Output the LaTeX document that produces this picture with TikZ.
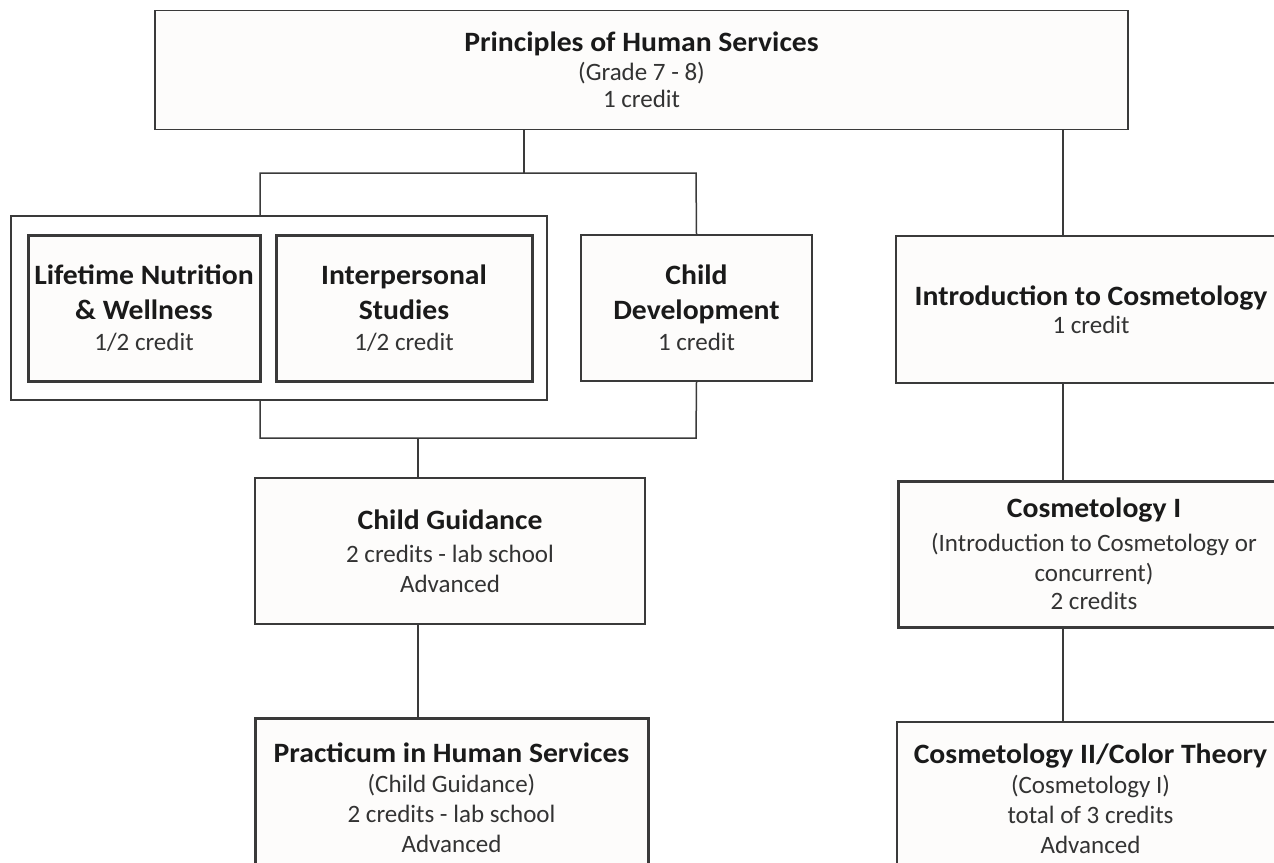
\documentclass[tikz,border=0pt]{standalone}
\usepackage{fontspec}
\setmainfont{Carlito}
\newfontfamily\boldfam{Carlito}[FakeStretch=1.06]
\definecolor{linegray}{HTML}{3A3A3A}
\definecolor{boxfill}{HTML}{FDFCFB}
\definecolor{txtgray}{HTML}{333333}
\definecolor{ttlgray}{HTML}{1A1A1A}
\newcommand{\regf}{\fontsize{12.5}{15}\selectfont}
\newcommand{\ttl}{\color{ttlgray}\boldfam\bfseries\fontsize{14}{16.5}\selectfont}
\begin{document}
\begin{tikzpicture}[x=0.5pt,y=-0.5pt,
  box/.style={draw=linegray, line width=0.75pt, fill=boxfill, inner sep=0pt,
    align=center, font=\regf, text=txtgray},
  thickbox/.style={box, line width=1.5pt},
  wh/.style 2 args={minimum width=#1*0.5pt, minimum height=#2*0.5pt},
  conn/.style={draw=linegray, line width=0.75pt},
]
\useasboundingbox (0,0) rectangle (1274,862);
\clip (0,0) rectangle (1274,862);
\fill[white] (0,0) rectangle (1274,862);

% coordinates for connector columns
\coordinate (lx) at (524,0);
\coordinate (rx) at (1063,0);
\coordinate (gx) at (418,0);
\coordinate (busTL) at (260,173);
\coordinate (busTR) at (696,173);
\coordinate (busBL) at (260,438);
\coordinate (busBR) at (696,438);
\coordinate (busBM) at (418,438);

% nodes
\node[box, wh={973}{119}, font=\fontsize{12.5}{13.5}\selectfont] (top) at (641.5,70)
  {{\ttl Principles of Human Services}\\[1pt](Grade 7 - 8)\\1 credit};

\node[draw=linegray, line width=0.75pt, fill=white, inner sep=0pt, wh={536}{184}] (group) at (279,308) {};

\node[thickbox, wh={232}{146}] (life) at (144,308)
  {{\ttl Lifetime Nutrition}\\[2.5pt]{\ttl \& Wellness}\\[0.5pt]1/2 credit};
\node[thickbox, wh={256}{146}] (inter) at (404,308)
  {{\ttl Interpersonal}\\[2.5pt]{\ttl Studies}\\[0.5pt]1/2 credit};
\node[box, wh={231}{146}] (childdev) at (696.5,308)
  {{\ttl Child}\\[2.5pt]{\ttl Development}\\[0.5pt]1 credit};

\node[box, wh={390}{147}] (intro) at (1091,309.5)
  {{\ttl Introduction to Cosmetology}\\[-1pt]1 credit};

\node[box, wh={390}{146}] (guid) at (450,551)
  {{\ttl Child Guidance}\\[1.5pt]2 credits - lab school\\Advanced};

\node[thickbox, wh={392}{146}] (cos1) at (1094,554)
  {{\ttl Cosmetology I}\\[2pt](Introduction to Cosmetology or\\concurrent)\\[-1pt]2 credits};

\node[thickbox, wh={393}{160}] (prac) at (451.5,798)
  {{\ttl Practicum in Human Services}\\(Child Guidance)\\2 credits - lab school\\Advanced};

\node[box, wh={387}{153}] (cos2) at (1090.5,798.5)
  {{\ttl Cosmetology II/Color Theory}\\(Cosmetology I)\\total of 3 credits\\Advanced};

% connectors, left branch
\draw[conn] (top.south -| lx) -- (lx |- busTL);
\draw[conn] (group.north -| busTL) -- (busTL) -- (busTR) -- (childdev.north);
\draw[conn] (group.south -| busBL) -- (busBL) -- (busBR) -- (childdev.south);
\draw[conn] (busBM) -- (guid.north -| gx);
\draw[conn] (guid.south -| gx) -- (prac.north -| gx);

% connectors, right branch
\draw[conn] (top.south -| rx) -- (intro.north -| rx);
\draw[conn] (intro.south -| rx) -- (cos1.north -| rx);
\draw[conn] (cos1.south -| rx) -- (cos2.north -| rx);
\end{tikzpicture}
\end{document}
